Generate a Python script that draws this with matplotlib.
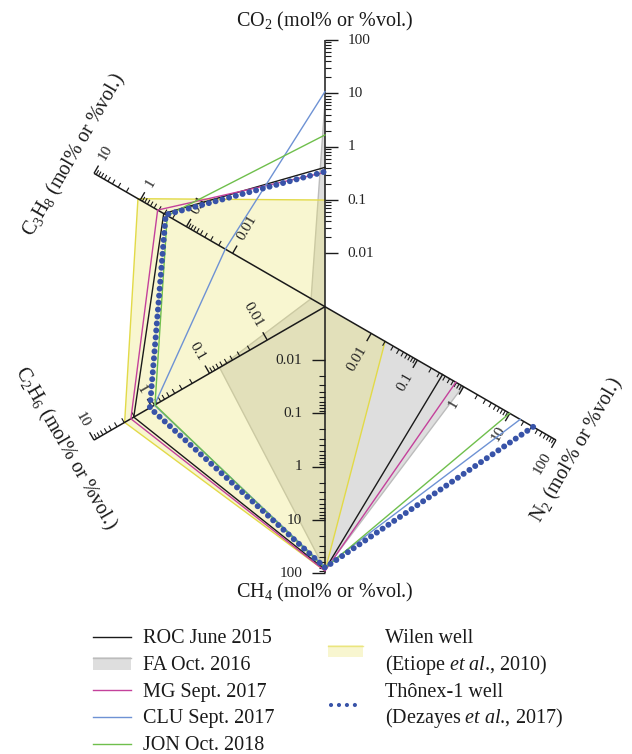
import numpy as np
import matplotlib
matplotlib.use("Agg")
import matplotlib.pyplot as plt
from matplotlib.collections import LineCollection
from matplotlib.patches import Polygon, Rectangle

plt.rcParams['font.family'] = ['Liberation Serif', 'DejaVu Serif']
plt.rcParams['mathtext.fontset'] = 'custom'
plt.rcParams['mathtext.rm'] = 'Liberation Serif'
plt.rcParams['mathtext.it'] = 'Liberation Serif:italic'
plt.rcParams['mathtext.bf'] = 'Liberation Serif:bold'

# ---- radar axes, clockwise from the top (the 30 deg spoke carries no gas) ----
components = ["CO2", "N2", "CH4", "C2H6", "C3H8"]
axis_titles = [r"CO$_2$ (mol% or %vol.)", r"N$_2$ (mol% or %vol.)",
               r"CH$_4$ (mol% or %vol.)", r"C$_2$H$_6$ (mol% or %vol.)",
               r"C$_3$H$_8$ (mol% or %vol.)"]
axis_angles = [90, -30, -90, 210, 150]
axis_log_range = [(-3, 2), (-3, 2), (-3, 2), (-3, 1), (-4, 1)]   # centre -> tip
first_tick_exp = -2
tick_text = {-2: "0.01", -1: "0.1", 0: "1", 1: "10", 2: "100"}

# ---- gas compositions (mol% or %vol.), order CO2, N2, CH4, C2H6, C3H8 ----
roc = [0.41, 0.35, 85, 2.05, 0.31]
fa = [7.0, 0.97, 85, 0.067, 0.0002]
mg = [0.33, 0.68, 90, 2.3, 0.42]
clu = [10.8, 16.8, 75, 0.90, 0.0144]
jon = [1.66, 9.9, 80, 0.88, 0.26]
wilen = [0.10, 0.02, 90, 2.95, 1.12]
thonex = [0.34, 32, 78, 1.08, 0.28]

R = 266.7          # spoke length in pixels
W, H = 632, 754
CX, CY = 325, 306.7


def to_xy(i, v):
    lo, hi = axis_log_range[i]
    r = (np.log10(v) - lo) / (hi - lo) * R
    th = np.deg2rad(axis_angles[i])
    return r * np.cos(th), r * np.sin(th)


def img(x, y):
    """pixel position (origin top-left) -> drawing coordinates"""
    return x - CX, CY - y


fig = plt.figure(figsize=(W / 100, H / 100), dpi=100)
ax = fig.add_axes([0, 0, 1, 1])
ax.set_xlim(-CX, W - CX)
ax.set_ylim(CY - H, CY)
ax.set_aspect('equal')
ax.axis('off')

fill_order = [0, 4, 3, 2, 1]       # CO2 -> C3H8 -> C2H6 -> CH4 -> N2 -> centre
line_order = [1, 2, 3, 4, 0]       # N2 -> CH4 -> C2H6 -> C3H8 -> CO2


def fill_poly(vals, face, edge, alpha, z):
    pts = [to_xy(i, vals[i]) for i in fill_order] + [(0, 0)]
    ax.add_patch(Polygon(pts, closed=True, facecolor=face, alpha=alpha,
                         edgecolor='none', zorder=z))
    xs, ys = zip(*[to_xy(i, vals[i]) for i in line_order])
    ax.plot(xs, ys, color=edge, lw=1.0, zorder=z + 0.1)


fill_poly(fa, '#dedede', '#bcbcbc', 1.0, 1)
fill_poly(wilen, '#ece66e', '#e2da48', 0.32, 2)

# ---- spokes, ticks and tick labels ----
segs_major, segs_minor, spokes = [], [], []
for i, th_deg in enumerate(axis_angles):
    th = np.deg2rad(th_deg)
    u = np.array([np.cos(th), np.sin(th)])
    n = np.array([np.sin(th), -np.cos(th)])       # clockwise side
    spokes.append([(0, 0), tuple(u * R)])
    lo, hi = axis_log_range[i]
    vertical = th_deg in (90, -90)
    maj_len = 13 if vertical else 9
    min_len = 6 if vertical else 5
    lab_off = 22.7 if vertical else 16
    for e in range(first_tick_exp, hi + 1):
        p = np.array(to_xy(i, 10.0 ** e))
        segs_major.append([tuple(p), tuple(p + n * maj_len)])
        if e < hi:
            for m in range(2, 10):
                q = np.array(to_xy(i, m * 10.0 ** e))
                segs_minor.append([tuple(q), tuple(q + n * min_len)])
        # label orientation
        ang = np.degrees(np.arctan2(-n[1], -n[0]))
        if -90 < ang <= 90:
            rot, ha = ang, 'right'
        else:
            rot, ha = np.degrees(np.arctan2(n[1], n[0])), 'left'
        lp = p + n * lab_off
        ax.text(lp[0], lp[1], tick_text[e], rotation=rot, ha=ha, va='center',
                rotation_mode='anchor', fontsize=11, color='#222222', zorder=3)

ax.add_collection(LineCollection(spokes, colors='#1a1a1a', linewidths=1.1, zorder=4))
ax.add_collection(LineCollection(segs_major, colors='#1a1a1a', linewidths=1.0, zorder=4))
ax.add_collection(LineCollection(segs_minor, colors='#1a1a1a', linewidths=0.8, zorder=4))

# ---- composition lines ----
series = [(roc, '#1a1a1a'), (mg, '#c4419b'), (clu, '#6e92d4'), (jon, '#6fbf4c')]
for vals, col in series:
    xs, ys = zip(*[to_xy(i, vals[i]) for i in line_order])
    ax.plot(xs, ys, color=col, lw=1.0, zorder=5)

xs, ys = zip(*[to_xy(i, thonex[i]) for i in line_order])
ax.plot(xs, ys, color='#3853a8', lw=4.3, linestyle=(0, (0.01, 1.16)),
        dash_capstyle='round', zorder=6)

# ---- axis titles ----
title_pos = [img(325, 26), img(577, 450), img(325, 597.5), img(65, 448), img(74, 155)]
title_rot = [0, 60, 0, -60, 60]
for t, (x, y), r in zip(axis_titles, title_pos, title_rot):
    va = 'baseline' if r == 0 else 'center'
    ax.text(x, y, t, rotation=r, ha='center', va=va, rotation_mode='anchor',
            fontsize=14.5, color='#1a1a1a')

# ---- legend ----
leg_fs = 14.5
left_labels = ["ROC June 2015", "FA Oct. 2016", "MG Sept. 2017", "CLU Sept. 2017", "JON Oct. 2018"]
left_colors = ['#1a1a1a', None, '#c4419b', '#6e92d4', '#6fbf4c']
for k, (lab, col) in enumerate(zip(left_labels, left_colors)):
    base = 643.3 + 26.67 * k
    if col is None:
        x0, y0 = img(93.3, 670)
        ax.add_patch(Rectangle((x0, y0), 37.4, 12.7, facecolor='#dedede',
                               edgecolor='none'))
        ax.plot([x0, x0 + 37.4], [y0 + 12.2, y0 + 12.2], color='#bcbcbc', lw=1.0)
    else:
        a = img(93.3, base - 6.3)
        b = img(130.7, base - 6.3)
        ax.plot([a[0], b[0]], [a[1], b[1]], color=col, lw=1.0)
    tx, ty = img(143.3, base)
    ax.text(tx, ty, lab, fontsize=leg_fs, va='baseline', ha='left', color='#1a1a1a')

x0, y0 = img(328.3, 656.7)
ax.add_patch(Rectangle((x0, y0), 35, 11.7, facecolor='#ece66e', alpha=0.32,
                       edgecolor='none'))
ax.plot([x0, x0 + 35], [y0 + 11.2, y0 + 11.2], color='#e2da48', lw=1.0, alpha=0.6)
a = img(330.5, 705)
b = img(362, 705)
ax.plot([a[0], b[0]], [a[1], b[1]], color='#3853a8', lw=3.0,
        linestyle=(0, (0.01, 1.9)), dash_capstyle='round')

right_labels = ["Wilen well", r"(Etiope $\mathit{et\ al}$., 2010)",
                "Thônex-1 well", r"(Dezayes $\mathit{et\ al}$., 2017)"]
for k, lab in enumerate(right_labels):
    tx, ty = img(385, 643.3 + 26.67 * k)
    ax.text(tx, ty, lab, fontsize=leg_fs, va='baseline', ha='left', color='#1a1a1a')

fig.savefig("out.png", dpi=100)
